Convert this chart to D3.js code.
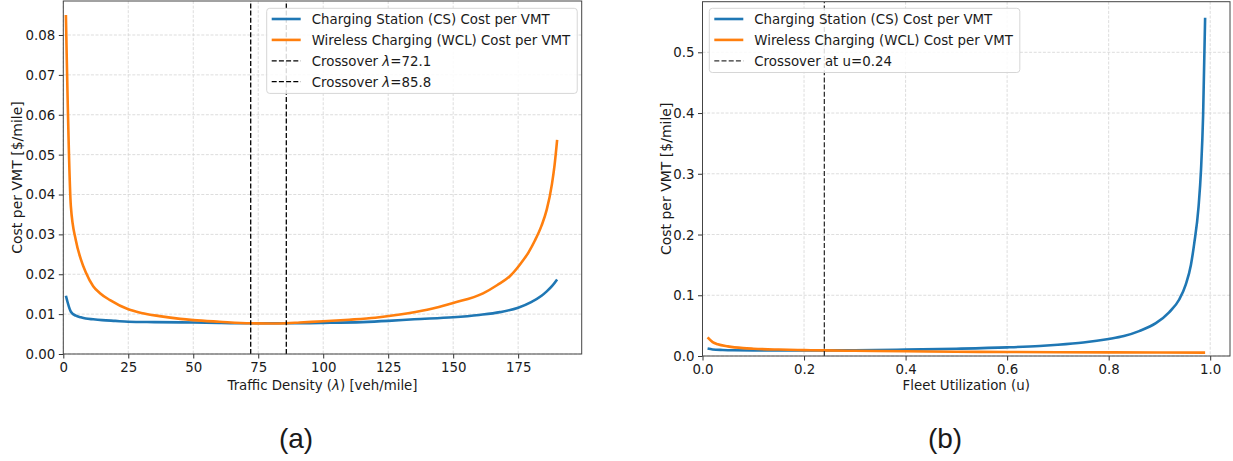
<!DOCTYPE html>
<html>
<head>
<meta charset="utf-8">
<script src="https://cdn.jsdelivr.net/npm/d3@7"></script>
<style>
  html, body { margin: 0; padding: 0; background: #fff; }
  svg { display: block; font-family: "DejaVu Sans", sans-serif; }
</style>
</head>
<body>
<svg id="chart" width="1233" height="461"></svg>
<script>
// ---- Panel (a): cost per VMT vs traffic density ----
const densityCS = [
  [1, 0.0146], [2.91, 0.0106], [4.82, 0.0096], [6.73, 0.0092], [8.64, 0.0089],
  [11.5, 0.0087], [15, 0.0085], [20, 0.0083], [25, 0.0081], [35, 0.0080],
  [50, 0.0079], [60, 0.00778], [72.1, 0.0077], [85.8, 0.0077], [100, 0.0078],
  [115, 0.0080], [125, 0.0083], [135, 0.0087], [150, 0.0092], [160, 0.0098],
  [168, 0.0105], [175, 0.0116], [180, 0.0130], [184, 0.0146], [186, 0.0157],
  [188, 0.0170], [190, 0.0187]
];
const densityWCL = [
  [1, 0.0850], [2.91, 0.0370], [4.82, 0.0285], [6.73, 0.0238], [8.64, 0.0205],
  [11.5, 0.0170], [14, 0.0153], [18, 0.0135], [25, 0.0112], [30, 0.0103],
  [37, 0.0095], [45, 0.0088], [50, 0.0085], [60, 0.0081], [72.1, 0.0077],
  [80, 0.00765], [85.8, 0.0077], [91, 0.0079], [100, 0.0082], [110, 0.0086],
  [120, 0.0091], [129.5, 0.0099], [140, 0.0111], [150, 0.0128], [161.5, 0.0152],
  [167, 0.0173], [171.8, 0.0195], [176, 0.0227], [179, 0.0255], [181.4, 0.0284],
  [184, 0.0322], [186, 0.0362], [188, 0.0426], [189, 0.0473], [190, 0.0537]
];
const densityCrossovers = [72.1, 85.8];
const densityXTicks = [0, 25, 50, 75, 100, 125, 150, 175];
const densityYTicks = [0, 0.01, 0.02, 0.03, 0.04, 0.05, 0.06, 0.07, 0.08];

// ---- Panel (b): cost per VMT vs fleet utilization ----
const utilCS = [
  [0.01, 0.0122], [0.02, 0.0108], [0.04, 0.0099], [0.06, 0.0094], [0.1, 0.0091],
  [0.15, 0.0090], [0.24, 0.0092], [0.3, 0.0095], [0.4, 0.0105], [0.5, 0.0120],
  [0.6, 0.0142], [0.664, 0.0165], [0.7, 0.0185], [0.75, 0.0222], [0.8, 0.0280],
  [0.83, 0.0328], [0.86, 0.0410], [0.893, 0.0540], [0.919, 0.0720], [0.939, 0.0930],
  [0.952, 0.1180], [0.962, 0.1500], [0.9685, 0.1850], [0.977, 0.2450], [0.982, 0.3080],
  [0.986, 0.3950], [0.99, 0.5570]
];
const utilWCL = [
  [0.01, 0.0305], [0.02, 0.0228], [0.03, 0.0192], [0.05, 0.0158], [0.08, 0.0130],
  [0.1, 0.0120], [0.15, 0.0106], [0.2, 0.0097], [0.24, 0.0092], [0.3, 0.0086],
  [0.4, 0.0077], [0.5, 0.0071], [0.6, 0.0066], [0.7, 0.0062], [0.8, 0.0059],
  [0.9, 0.0057], [0.99, 0.0055]
];
const utilCrossover = 0.24;
const utilXTicks = [0, 0.2, 0.4, 0.6, 0.8, 1.0];
const utilYTicks = [0, 0.1, 0.2, 0.3, 0.4, 0.5];

const BLUE = "#1f77b4", ORANGE = "#ff7f0e";
const FONT = "14px";
const SQUEEZE = 0.955;   // glyphs are drawn slightly narrower than tall
const svg = d3.select("#chart");

// narrow a text element horizontally about its anchor point
function squeeze(sel) {
  sel.each(function () {
    const t = d3.select(this);
    const ax = +t.attr("x") || 0, ay = +t.attr("y") || 0;
    t.attr("transform", `translate(${ax},${ay}) scale(${SQUEEZE},1) translate(${-ax},${-ay})`);
  });
}

function panel(opts) {
  const x = d3.scaleLinear().domain(opts.xDomain).range([opts.left, opts.right]);
  const y = d3.scaleLinear().domain(opts.yDomain).range([opts.bottom, opts.top]);
  const g = svg.append("g");

  // grid
  g.append("g").selectAll("line").data(opts.xTicks).join("line")
    .attr("x1", d => x(d)).attr("x2", d => x(d))
    .attr("y1", opts.top).attr("y2", opts.bottom)
    .attr("stroke", "#d4d4d4").attr("stroke-width", 0.8).attr("stroke-dasharray", "3,1.6");
  g.append("g").selectAll("line").data(opts.yTicks).join("line")
    .attr("y1", d => y(d)).attr("y2", d => y(d))
    .attr("x1", opts.left).attr("x2", opts.right)
    .attr("stroke", "#d4d4d4").attr("stroke-width", 0.8).attr("stroke-dasharray", "3,1.6");

  // curves
  const line = d3.line().x(d => x(d[0])).y(d => y(d[1])).curve(d3.curveMonotoneX);
  const clipId = "clip" + opts.id;
  svg.append("clipPath").attr("id", clipId).append("rect")
    .attr("x", opts.left).attr("y", opts.top)
    .attr("width", opts.right - opts.left).attr("height", opts.bottom - opts.top);
  const plot = g.append("g").attr("clip-path", `url(#${clipId})`);
  plot.append("path").datum(opts.cs).attr("d", line)
    .attr("fill", "none").attr("stroke", BLUE).attr("stroke-width", 2.6)
    .attr("stroke-linejoin", "round").attr("stroke-linecap", "butt");
  plot.append("path").datum(opts.wcl).attr("d", line)
    .attr("fill", "none").attr("stroke", ORANGE).attr("stroke-width", 2.6)
    .attr("stroke-linejoin", "round").attr("stroke-linecap", "butt");
  plot.selectAll("line.cross").data(opts.crossovers).join("line")
    .attr("class", "cross")
    .attr("x1", d => x(d)).attr("x2", d => x(d))
    .attr("y1", opts.bottom).attr("y2", opts.top)
    .attr("stroke", opts.crossColor).attr("stroke-width", 1.3)
    .attr("stroke-dasharray", "5,2.2");

  // axes
  const xAxis = d3.axisBottom(x).tickValues(opts.xTicks).tickFormat(opts.xFmt)
    .tickSizeInner(4.5).tickSizeOuter(0).tickPadding(3.5);
  const yAxis = d3.axisLeft(y).tickValues(opts.yTicks).tickFormat(opts.yFmt)
    .tickSizeInner(4.5).tickSizeOuter(0).tickPadding(3.5);
  const gx = g.append("g").attr("transform", `translate(0,${opts.bottom})`).call(xAxis);
  const gy = g.append("g").attr("transform", `translate(${opts.left},0)`).call(yAxis);
  [gx, gy].forEach(a => {
    a.select(".domain").remove();
    a.selectAll("line").attr("stroke", "#333").attr("stroke-width", 1);
    a.selectAll("text").attr("fill", "#1a1a1a").style("font-size", FONT)
      .style("font-family", "'DejaVu Sans', sans-serif").call(squeeze);
  });

  // frame
  g.append("rect").attr("x", opts.left).attr("y", opts.top)
    .attr("width", opts.right - opts.left).attr("height", opts.bottom - opts.top)
    .attr("fill", "none").attr("stroke", "#444").attr("stroke-width", 1);

  // axis titles
  const xt = g.append("text").attr("x", (opts.left + opts.right) / 2).attr("y", opts.xLabelY)
    .attr("text-anchor", "middle").attr("fill", "#1a1a1a").style("font-size", FONT);
  opts.xLabel.forEach(p => xt.append("tspan").text(p.t).style("font-style", p.i ? "italic" : "normal"));
  xt.call(squeeze);
  g.append("text")
    .attr("transform", `translate(${opts.yLabelX},${(opts.top + opts.bottom) / 2}) rotate(-90)`)
    .attr("text-anchor", "middle").attr("fill", "#1a1a1a").style("font-size", FONT)
    .text("Cost per VMT [$/mile]");

  // legend
  const lg = g.append("g");
  const box = lg.append("rect").attr("x", opts.legX).attr("y", opts.legY)
    .attr("rx", 3).attr("ry", 3)
    .attr("fill", "#fff").attr("fill-opacity", 0.85)
    .attr("stroke", "#d6d6d6").attr("stroke-width", 1);
  let maxW = 0;
  opts.legend.forEach((item, i) => {
    const cy = opts.legY + 10.7 + i * 20.9;
    lg.append("line")
      .attr("x1", opts.legX + 5).attr("x2", opts.legX + 34)
      .attr("y1", cy).attr("y2", cy)
      .attr("stroke", item.color).attr("stroke-width", item.dash ? 1.3 : 2.6)
      .attr("stroke-dasharray", item.dash ? "5,2.2" : null);
    const t = lg.append("text").attr("x", opts.legX + 45).attr("y", cy + 5.2)
      .attr("fill", "#1a1a1a").style("font-size", FONT);
    item.parts.forEach(p => t.append("tspan").text(p.t).style("font-style", p.i ? "italic" : "normal"));
    t.call(squeeze);
    maxW = Math.max(maxW, t.node().getComputedTextLength() * SQUEEZE);
  });
  box.attr("width", 45 + maxW + 7).attr("height", opts.legend.length * 20.9 + 1.5);
}

panel({
  id: "a", left: 63.3, right: 581.7, top: 1, bottom: 354,
  xDomain: [0, 199.45], yDomain: [0, 0.08853],
  xTicks: densityXTicks, yTicks: densityYTicks,
  xFmt: d3.format("d"), yFmt: d3.format(".2f"),
  cs: densityCS, wcl: densityWCL, crossovers: densityCrossovers, crossColor: "#000",
  xLabel: [{t: "Traffic Density ("}, {t: "λ", i: true}, {t: ") [veh/mile]"}],
  xLabelY: 390, yLabelX: 22,
  legX: 266.7, legY: 8.3,
  legend: [
    {color: BLUE, parts: [{t: "Charging Station (CS) Cost per VMT"}]},
    {color: ORANGE, parts: [{t: "Wireless Charging (WCL) Cost per VMT"}]},
    {color: "#000", dash: true, parts: [{t: "Crossover "}, {t: "λ", i: true}, {t: "=" + densityCrossovers[0].toFixed(1)}]},
    {color: "#000", dash: true, parts: [{t: "Crossover "}, {t: "λ", i: true}, {t: "=" + densityCrossovers[1].toFixed(1)}]}
  ]
});

panel({
  id: "b", left: 702.5, right: 1230, top: 1.7, bottom: 356,
  xDomain: [0, 1.039], yDomain: [0, 0.5833],
  xTicks: utilXTicks, yTicks: utilYTicks,
  xFmt: d3.format(".1f"), yFmt: d3.format(".1f"),
  cs: utilCS, wcl: utilWCL, crossovers: [utilCrossover], crossColor: "#333",
  xLabel: [{t: "Fleet Utilization (u)"}],
  xLabelY: 390, yLabelX: 670.5,
  legX: 709.3, legY: 8.3,
  legend: [
    {color: BLUE, parts: [{t: "Charging Station (CS) Cost per VMT"}]},
    {color: ORANGE, parts: [{t: "Wireless Charging (WCL) Cost per VMT"}]},
    {color: "#333", dash: true, parts: [{t: "Crossover at u=" + utilCrossover.toFixed(2)}]}
  ]
});

// sub-figure captions
svg.append("text").attr("x", 296).attr("y", 448).attr("text-anchor", "middle")
  .style("font-family", "'Liberation Sans', Arial, sans-serif").style("font-size", "28px")
  .attr("fill", "#1a1a1a").text("(a)");
svg.append("text").attr("x", 945).attr("y", 448).attr("text-anchor", "middle")
  .style("font-family", "'Liberation Sans', Arial, sans-serif").style("font-size", "28px")
  .attr("fill", "#1a1a1a").text("(b)");
</script>
</body>
</html>
